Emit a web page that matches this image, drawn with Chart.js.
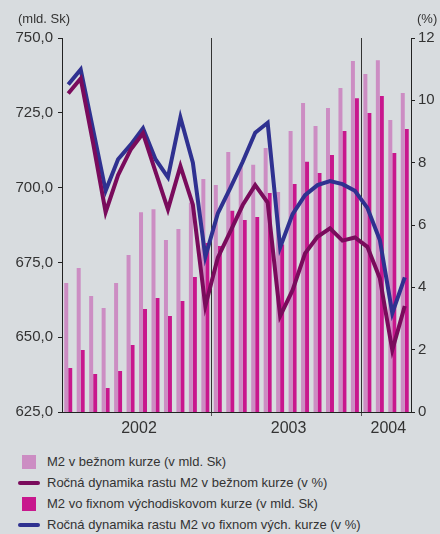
<!DOCTYPE html>
<html>
<head>
<meta charset="utf-8">
<script src="https://cdn.jsdelivr.net/npm/chart.js@4.4.1/dist/chart.umd.min.js"></script>
<style>
    body { margin: 0; background: #d8dcdf; font-family: "Liberation Sans", Arial, sans-serif; }
    #wrap { position: relative; width: 440px; height: 534px; overflow: hidden; }
    #chart { position: absolute; left: 0; top: 0; }
    .unit { position: absolute; top: 11px; font-size: 13px; color: #333; }
    #legend { position: absolute; left: 18px; top: 451px; }
    .row { height: 21px; display: flex; align-items: center; font-size: 13px; color: #333; white-space: nowrap; }
    .mark { width: 22px; margin-right: 7px; display: flex; justify-content: center; align-items: center; }
    .box { width: 14px; height: 14px; }
    .line { width: 22px; height: 4px; border-radius: 2px; }
</style>
</head>
<body>
<div id="wrap">
    <canvas id="chart" width="440" height="445"></canvas>
    <div class="unit" style="left:18px">(mld. Sk)</div>
    <div class="unit" style="left:417px">(%)</div>
    <div id="legend"></div>
</div>
<script>
// mesiace 01/2002 - 04/2004
const mesiace = [
    '01/02','02/02','03/02','04/02','05/02','06/02','07/02','08/02','09/02','10/02','11/02','12/02',
    '01/03','02/03','03/03','04/03','05/03','06/03','07/03','08/03','09/03','10/03','11/03','12/03',
    '01/04','02/04','03/04','04/04'
];

// M2 v bežnom kurze (mld. Sk)
const m2Bezny = [
    668.1, 673.1, 663.8, 659.8, 668.1, 677.5, 691.8, 692.8, 682.5, 686.2, 695.0, 702.9,
    700.9, 711.9, 707.2, 707.6, 713.2, 698.5, 718.9, 728.3, 720.6, 726.6, 733.3, 742.3,
    738.0, 742.6, 722.6, 731.6
];

// M2 vo fixnom východiskovom kurze (mld. Sk)
const m2Fixny = [
    639.7, 645.7, 637.7, 633.0, 638.7, 647.4, 659.4, 663.1, 657.1, 662.1, 670.1, 681.5,
    680.5, 692.3, 689.2, 690.2, 698.2, 681.0, 701.2, 708.6, 704.9, 710.9, 718.9, 729.9,
    724.9, 730.6, 711.6, 719.6
];

// ročná dynamika v %
const rastBezny = [
    10.22, 10.70, 8.62, 6.41, 7.60, 8.41, 8.94, 7.71, 6.50, 7.89, 6.65, 3.40,
    4.95, 5.79, 6.64, 7.28, 6.72, 3.08, 3.91, 5.09, 5.62, 5.89, 5.50, 5.60,
    5.30, 4.29, 1.99, 3.40
];

const rastFixny = [
    10.51, 10.99, 9.05, 7.10, 8.11, 8.57, 9.10, 8.11, 7.53, 9.45, 8.00, 4.98,
    6.37, 7.18, 8.03, 8.96, 9.28, 5.28, 6.35, 6.96, 7.28, 7.41, 7.31, 7.10,
    6.55, 5.52, 3.17, 4.32
];

// popisky rokov na osi x (index mesiaca, pri ktorom je popisok) a hranice rokov
const roky = ['2002', '2003', '2004'];
const rokyIndex = [6, 18, 26];
const hraniceRokov = [12, 24];

const farby = {
    bezny: '#cc8dc3',
    fixny: '#c8178d',
    rastBezny: '#7a0b5c',
    rastFixny: '#2f3190',
    text: '#333333',
    osa: '#222222'
};

const popisky = [
    'M2 v bežnom kurze (v mld. Sk)',
    'Ročná dynamika rastu M2 v bežnom kurze (v %)',
    'M2 vo fixnom východiskovom kurze (v mld. Sk)',
    'Ročná dynamika rastu M2 vo fixnom vých. kurze (v %)'
];

const font = { family: '"Liberation Sans", Arial, sans-serif', size: 15 };

const data = {
    labels: mesiace,
    datasets: [{
        type: 'bar',
        label: popisky[0],
        data: m2Bezny,
        backgroundColor: farby.bezny,
        yAxisID: 'y',
        order: 1
    }, {
        type: 'line',
        label: popisky[1],
        data: rastBezny,
        borderColor: farby.rastBezny,
        backgroundColor: farby.rastBezny,
        borderWidth: 4,
        pointRadius: 0,
        yAxisID: 'y1',
        order: 0
    }, {
        type: 'bar',
        label: popisky[2],
        data: m2Fixny,
        backgroundColor: farby.fixny,
        yAxisID: 'y',
        order: 1
    }, {
        type: 'line',
        label: popisky[3],
        data: rastFixny,
        borderColor: farby.rastFixny,
        backgroundColor: farby.rastFixny,
        borderWidth: 4,
        pointRadius: 0,
        yAxisID: 'y1',
        order: 0
    }]
};

//je to hranica medzi rokmi?
function jeHranica(ctx) {
    return hraniceRokov.indexOf(ctx.index) >= 0;
}

const config = {
    type: 'bar',
    data: data,
    options: {
        responsive: false,
        animation: false,
        layout: { padding: { top: 38, left: 0, right: 0, bottom: 0 } },
        datasets: { bar: { barPercentage: 1, categoryPercentage: 0.64 } },
        plugins: { legend: { display: false }, tooltip: { enabled: false } },
        scales: {
            x: {
                type: 'category',
                offset: true,
                ticks: {
                    autoSkip: false,
                    maxRotation: 0,
                    minRotation: 0,
                    padding: 3,
                    labelOffset: -4,
                    color: farby.text,
                    font: { family: font.family, size: 16 },
                    callback: function (v, index) {
                        const i = rokyIndex.indexOf(index);
                        return i >= 0 ? roky[i] : '';
                    }
                },
                grid: {
                    offset: true,
                    drawOnChartArea: true,
                    tickLength: 4,
                    lineWidth: 1,
                    color: function (ctx) { return jeHranica(ctx) ? '#333333' : 'rgba(0,0,0,0)'; },
                    tickColor: function (ctx) { return jeHranica(ctx) ? '#555555' : 'rgba(0,0,0,0)'; }
                },
                border: { display: true, color: farby.osa, width: 1 },
                afterFit: function (s) { s.height = 33; }
            },
            y: {
                position: 'left',
                min: 625,
                max: 750,
                ticks: {
                    stepSize: 25,
                    padding: 5,
                    color: farby.text,
                    font: font,
                    callback: function (v) { return v.toFixed(1).replace('.', ','); }
                },
                grid: { drawOnChartArea: false, tickLength: 4, tickColor: farby.osa },
                border: { display: true, color: farby.osa, width: 1 },
                afterFit: function (s) { s.width = 62; }
            },
            y1: {
                position: 'right',
                min: 0,
                max: 12,
                ticks: {
                    stepSize: 2,
                    padding: 3,
                    color: farby.text,
                    font: font
                },
                grid: { drawOnChartArea: false, tickLength: 4, tickColor: farby.osa },
                border: { display: true, color: farby.osa, width: 1 },
                afterFit: function (s) { s.width = 29; }
            }
        }
    }
};

new Chart(document.getElementById('chart'), config);

// legenda pod grafom
let legendHtml = '';
data.datasets.forEach(function (ds) {
    const znak = ds.type === 'bar'
        ? "<div class='box' style='background:" + ds.backgroundColor + "'></div>"
        : "<div class='line' style='background:" + ds.borderColor + "'></div>";
    legendHtml += "<div class='row'><div class='mark'>" + znak + "</div><span>" + ds.label + "</span></div>";
});
document.getElementById('legend').innerHTML = legendHtml;
</script>
</body>
</html>
